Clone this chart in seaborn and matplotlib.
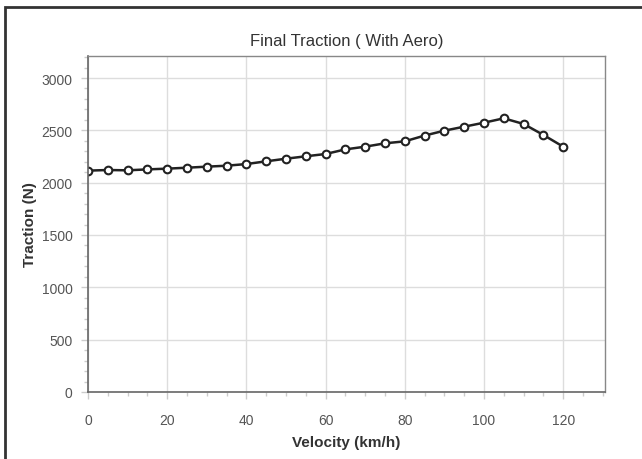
import matplotlib
matplotlib.use("Agg")
import matplotlib.pyplot as plt
import matplotlib.patches as patches
from matplotlib.ticker import MultipleLocator
import pandas as pd
import seaborn as sns

# Hastighet (km/h) och dragkraft (N)
velocity = [0, 5, 10, 15, 20, 25, 30, 35, 40, 45, 50, 55, 60,
            65, 70, 75, 80, 85, 90, 95, 100, 105, 110, 115, 120]
traction = [2115, 2121, 2118, 2127, 2134, 2143, 2153, 2162, 2178, 2204, 2229, 2252, 2274,
            2318, 2344, 2376, 2395, 2450, 2497, 2535, 2573, 2615, 2561, 2456, 2344]

df = pd.DataFrame({"Velocity": velocity, "Traction": traction})

sns.set_theme(style="whitegrid")
plt.rcParams["font.family"] = ["Liberation Sans", "DejaVu Sans"]

fig = plt.figure(figsize=(6.42, 4.6), dpi=100)
ax = fig.add_axes([0.137, 0.1457, 0.805, 0.7303])

sns.lineplot(x="Velocity", y="Traction", data=df, ax=ax, color="#222222", linewidth=1.8,
             marker="o", markersize=5.5, markerfacecolor="white", markeredgecolor="#222222",
             markeredgewidth=1.5)

ax.set_xlim(0, 130.5)
ax.set_ylim(0, 3210)
ax.xaxis.set_major_locator(MultipleLocator(20))
ax.xaxis.set_minor_locator(MultipleLocator(5))
ax.yaxis.set_major_locator(MultipleLocator(500))
ax.yaxis.set_minor_locator(MultipleLocator(100))

ax.grid(True, which="major", color="#dddddd", linewidth=1)
ax.grid(False, which="minor")
for side in ["top", "right"]:
    ax.spines[side].set_color("#888888")
    ax.spines[side].set_linewidth(1)
for side in ["left", "bottom"]:
    ax.spines[side].set_color("#666666")
    ax.spines[side].set_linewidth(1.2)

ax.tick_params(axis="both", which="major", length=5, width=1, color="#cccccc",
               labelsize=10, labelcolor="#555555")
ax.tick_params(axis="x", which="major", pad=10)
ax.tick_params(axis="y", which="major", pad=6)
ax.tick_params(axis="both", which="minor", length=3, width=1, color="#cccccc")
ax.tick_params(axis="x", which="both", bottom=True, direction="out")
ax.tick_params(axis="y", which="both", left=True, direction="out")

ax.set_title("Final Traction ( With Aero)", fontsize=12, color="#333333", pad=8)
ax.set_xlabel("Velocity (km/h)", fontsize=11, fontweight="bold", color="#333333", labelpad=6)
ax.set_ylabel("Traction (N)", fontsize=11, fontweight="bold", color="#333333", labelpad=3)

# ram runt hela figuren
fig.patches.append(patches.Rectangle((5 / 642, -0.02), 1.05, 1 - 8 / 460 + 0.02,
                                     transform=fig.transFigure, fill=False,
                                     edgecolor="#333333", linewidth=2))

fig.savefig("out.png", dpi=100)
